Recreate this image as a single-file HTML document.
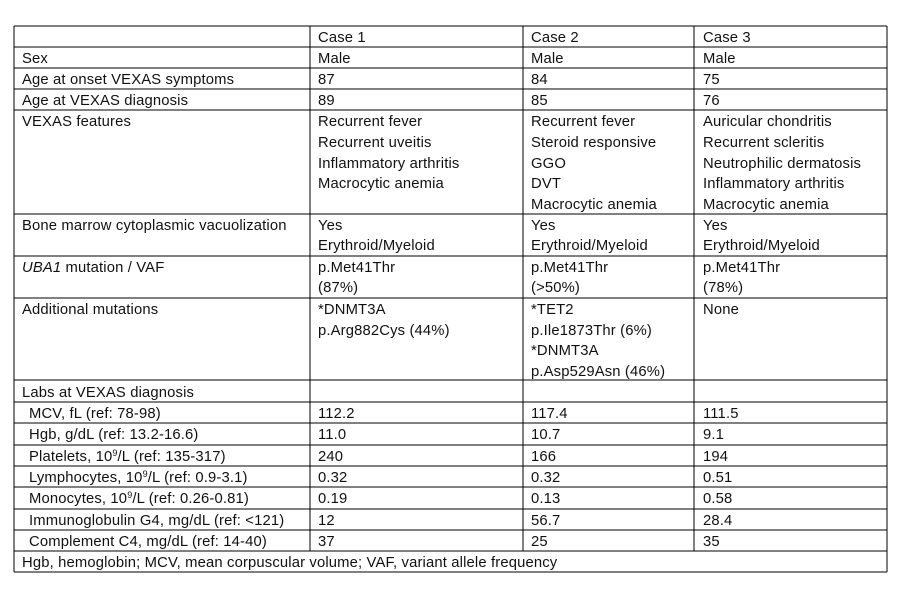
<!DOCTYPE html>
<html><head><meta charset="utf-8"><style>
html,body{margin:0;padding:0;background:#fff;}
svg{display:block;}
text{font-family:"Liberation Sans",sans-serif;font-size:14.8px;fill:#111;letter-spacing:0.15px;}
line{stroke:#000;stroke-width:1;}
</style></head><body>
<svg width="905" height="597" viewBox="0 0 905 597" xmlns="http://www.w3.org/2000/svg">
<g shape-rendering="crispEdges">
<line x1="14" y1="26" x2="14" y2="572"/>
<line x1="887" y1="26" x2="887" y2="572"/>
<line x1="310" y1="26" x2="310" y2="551"/>
<line x1="523" y1="26" x2="523" y2="551"/>
<line x1="694" y1="26" x2="694" y2="551"/>
<line x1="14" y1="26" x2="887" y2="26"/>
<line x1="14" y1="47" x2="887" y2="47"/>
<line x1="14" y1="68" x2="887" y2="68"/>
<line x1="14" y1="89" x2="887" y2="89"/>
<line x1="14" y1="110" x2="887" y2="110"/>
<line x1="14" y1="214" x2="887" y2="214"/>
<line x1="14" y1="256" x2="887" y2="256"/>
<line x1="14" y1="298" x2="887" y2="298"/>
<line x1="14" y1="380" x2="887" y2="380"/>
<line x1="14" y1="402" x2="887" y2="402"/>
<line x1="14" y1="423" x2="887" y2="423"/>
<line x1="14" y1="445" x2="887" y2="445"/>
<line x1="14" y1="466" x2="887" y2="466"/>
<line x1="14" y1="487" x2="887" y2="487"/>
<line x1="14" y1="509" x2="887" y2="509"/>
<line x1="14" y1="530" x2="887" y2="530"/>
<line x1="14" y1="551" x2="887" y2="551"/>
<line x1="14" y1="572" x2="887" y2="572"/>
</g>
<text x="318" y="42">Case 1</text><text x="531" y="42">Case 2</text><text x="703" y="42">Case 3</text>
<text x="22" y="63">Sex</text><text x="318" y="63">Male</text><text x="531" y="63">Male</text><text x="703" y="63">Male</text>
<text x="22" y="84">Age at onset VEXAS symptoms</text><text x="318" y="84">87</text><text x="531" y="84">84</text><text x="703" y="84">75</text>
<text x="22" y="105">Age at VEXAS diagnosis</text><text x="318" y="105">89</text><text x="531" y="105">85</text><text x="703" y="105">76</text>
<text x="22" y="126">VEXAS features</text>
<text x="318" y="126">Recurrent fever</text><text x="318" y="147">Recurrent uveitis</text><text x="318" y="168">Inflammatory arthritis</text><text x="318" y="188">Macrocytic anemia</text>
<text x="531" y="126">Recurrent fever</text><text x="531" y="147">Steroid responsive</text><text x="531" y="168">GGO</text><text x="531" y="188">DVT</text><text x="531" y="209">Macrocytic anemia</text>
<text x="703" y="126">Auricular chondritis</text><text x="703" y="147">Recurrent scleritis</text><text x="703" y="168">Neutrophilic dermatosis</text><text x="703" y="188">Inflammatory arthritis</text><text x="703" y="209">Macrocytic anemia</text>
<text x="22" y="230">Bone marrow cytoplasmic vacuolization</text>
<text x="318" y="230">Yes</text><text x="318" y="250">Erythroid/Myeloid</text>
<text x="531" y="230">Yes</text><text x="531" y="250">Erythroid/Myeloid</text>
<text x="703" y="230">Yes</text><text x="703" y="250">Erythroid/Myeloid</text>
<text x="22" y="272"><tspan font-style="italic">UBA1</tspan> mutation / VAF</text>
<text x="318" y="272">p.Met41Thr</text><text x="318" y="292">(87%)</text>
<text x="531" y="272">p.Met41Thr</text><text x="531" y="292">(&gt;50%)</text>
<text x="703" y="272">p.Met41Thr</text><text x="703" y="292">(78%)</text>
<text x="22" y="314">Additional mutations</text>
<text x="318" y="314">*DNMT3A</text><text x="318" y="335">p.Arg882Cys (44%)</text>
<text x="531" y="314">*TET2</text><text x="531" y="335">p.Ile1873Thr (6%)</text><text x="531" y="355">*DNMT3A</text><text x="531" y="376">p.Asp529Asn (46%)</text>
<text x="703" y="314">None</text>
<text x="22" y="397">Labs at VEXAS diagnosis</text>
<text x="29" y="418">MCV, fL (ref: 78-98)</text><text x="318" y="418">112.2</text><text x="531" y="418">117.4</text><text x="703" y="418">111.5</text>
<text x="29" y="439">Hgb, g/dL (ref: 13.2-16.6)</text><text x="318" y="439">11.0</text><text x="531" y="439">10.7</text><text x="703" y="439">9.1</text>
<text x="29" y="461">Platelets, 10<tspan font-size="9" dy="-5">9</tspan><tspan dy="5">/L (ref: 135-317)</tspan></text><text x="318" y="461">240</text><text x="531" y="461">166</text><text x="703" y="461">194</text>
<text x="29" y="482">Lymphocytes, 10<tspan font-size="9" dy="-5">9</tspan><tspan dy="5">/L (ref: 0.9-3.1)</tspan></text><text x="318" y="482">0.32</text><text x="531" y="482">0.32</text><text x="703" y="482">0.51</text>
<text x="29" y="503">Monocytes, 10<tspan font-size="9" dy="-5">9</tspan><tspan dy="5">/L (ref: 0.26-0.81)</tspan></text><text x="318" y="503">0.19</text><text x="531" y="503">0.13</text><text x="703" y="503">0.58</text>
<text x="29" y="525">Immunoglobulin G4, mg/dL (ref: &lt;121)</text><text x="318" y="525">12</text><text x="531" y="525">56.7</text><text x="703" y="525">28.4</text>
<text x="29" y="546">Complement C4, mg/dL (ref: 14-40)</text><text x="318" y="546">37</text><text x="531" y="546">25</text><text x="703" y="546">35</text>
<text x="22" y="567">Hgb, hemoglobin; MCV, mean corpuscular volume; VAF, variant allele frequency</text>
</svg>
</body></html>
